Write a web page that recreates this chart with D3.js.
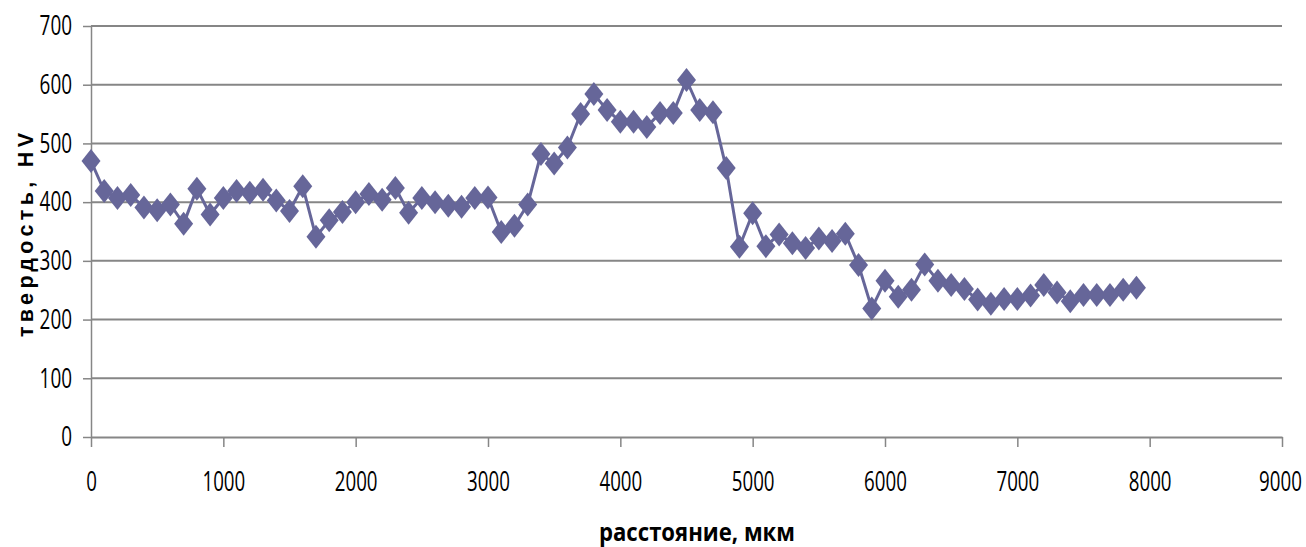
<!DOCTYPE html>
<html><head><meta charset="utf-8">
<script src="https://cdn.jsdelivr.net/npm/d3@7"></script>
<style>body{margin:0;background:#fff}</style>
</head><body>
<svg id="c" width="1306" height="547"></svg>
<script>
const distance = [0,100,200,300,400,500,600,700,800,900,
  1000,1100,1200,1300,1400,1500,1600,1700,1800,1900,
  2000,2100,2200,2300,2400,2500,2600,2700,2800,2900,
  3000,3100,3200,3300,3400,3500,3600,3700,3800,3900,
  4000,4100,4200,4300,4400,4500,4600,4700,4800,4900,
  5000,5100,5200,5300,5400,5500,5600,5700,5800,5900,
  6000,6100,6200,6300,6400,6500,6600,6700,6800,6900,
  7000,7100,7200,7300,7400,7500,7600,7700,7800,7900];
const hardness = [470,419,407,412,391,386,396,363,423,379,
  407,419,416,421,403,385,427,341,369,383,
  400,414,404,424,382,407,400,394,392,407,
  408,349,360,396,482,466,493,550,584,557,
  537,537,528,552,552,608,557,553,458,324,
  381,325,345,330,322,338,334,346,293,219,
  266,239,251,294,266,259,252,234,227,235,
  235,241,259,246,231,242,242,242,251,254];
const xTicks = [0,1000,2000,3000,4000,5000,6000,7000,8000,9000];
const yTicks = [0,100,200,300,400,500,600,700];
const xTitle = "расстояние, мкм";
const yTitle = "твердость, HV";

const svg = d3.select("#c");
const x = d3.scaleLinear().domain([0,9000]).range([91,1282]);
const y = d3.scaleLinear().domain([0,700]).range([437,26]);
const gridCol = "#868686";
const seriesCol = "#666699";

// gridlines
svg.append("g").selectAll("line").data(yTicks.filter(d => d > 0)).join("line")
  .attr("x1", x(0)).attr("x2", x(9000))
  .attr("y1", d => y(d)).attr("y2", d => y(d))
  .attr("stroke", gridCol).attr("stroke-width", 2);

const tickFont = "'Open Sans', sans-serif";

// x axis
const gx = svg.append("g").attr("transform", `translate(0,${y(0)})`)
  .call(d3.axisBottom(x).tickValues(xTicks).tickSize(10).tickSizeOuter(0).tickFormat(d3.format("d")));
gx.select(".domain").attr("stroke", gridCol).attr("stroke-width", 2);
gx.selectAll(".tick line").attr("stroke", gridCol).attr("stroke-width", 1.5);
gx.selectAll(".tick text")
  .attr("y", 54).attr("dy", 0)
  .attr("x", d => d === 9000 ? -2 : 0)
  .attr("font-family", tickFont).attr("font-size", 26.5).attr("fill", "#000")
  .attr("textLength", function(d){ return String(d).length * 10.7; })
  .attr("lengthAdjust", "spacingAndGlyphs");

// y axis
const gy = svg.append("g").attr("transform", `translate(${x(0)},0)`)
  .call(d3.axisLeft(y).tickValues(yTicks).tickSize(8).tickSizeOuter(0).tickFormat(d3.format("d")));
gy.select(".domain").attr("stroke", gridCol).attr("stroke-width", 1.5);
gy.selectAll(".tick line").attr("stroke", gridCol).attr("stroke-width", 1.5);
gy.selectAll(".tick text")
  .attr("x", -19).attr("dy", "0.33em")
  .attr("font-family", tickFont).attr("font-size", 26.5).attr("fill", "#000")
  .attr("textLength", function(d){ return String(d).length * 10.8; })
  .attr("lengthAdjust", "spacingAndGlyphs");

// series line
const pts = distance.map((d, i) => [d, hardness[i]]);
svg.append("path").datum(pts)
  .attr("fill", "none").attr("stroke", seriesCol).attr("stroke-width", 3)
  .attr("stroke-linejoin", "round")
  .attr("d", d3.line().x(d => x(d[0])).y(d => y(d[1])));

// diamond markers
svg.append("g").selectAll("path").data(pts).join("path")
  .attr("transform", d => `translate(${x(d[0])},${y(d[1])})`)
  .attr("d", "M0,-12L9.5,0L0,12L-9.5,0Z")
  .attr("fill", seriesCol);

// titles
svg.append("text")
  .attr("x", 697).attr("y", 541)
  .attr("text-anchor", "middle")
  .attr("font-family", "'Open Sans', sans-serif").attr("font-weight", "bold").attr("font-size", 25)
  .attr("textLength", 196).attr("lengthAdjust", "spacingAndGlyphs")
  .text(xTitle);

svg.append("text")
  .attr("transform", "translate(33,235) rotate(-90)")
  .attr("text-anchor", "middle")
  .attr("font-family", "'Liberation Sans', Arial, sans-serif").attr("font-weight", "bold").attr("font-size", 21.5)
  .attr("textLength", 204).attr("lengthAdjust", "spacing")
  .text(yTitle);
</script>
</body></html>
